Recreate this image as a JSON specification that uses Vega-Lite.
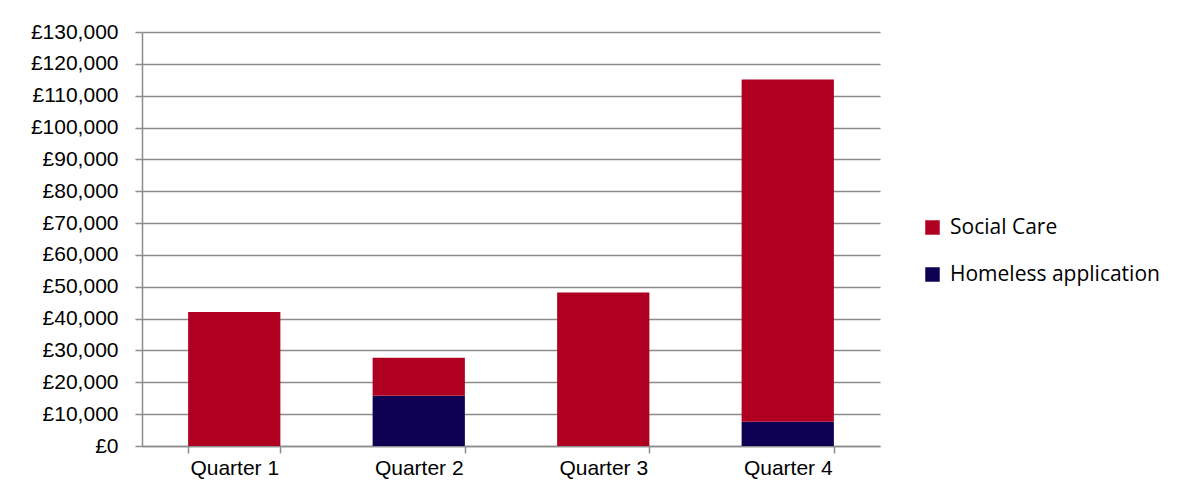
{
  "$schema": "https://vega.github.io/schema/vega-lite/v6.json",
  "autosize": "none",
  "width": 738,
  "height": 414,
  "padding": {"left": 142, "top": 32, "right": 315, "bottom": 36},
  "background": "white",
  "data": {
    "values": [
      {"quarter": "Quarter 1", "category": "Social Care", "amount": 42100, "rank": 2},
      {"quarter": "Quarter 2", "category": "Homeless application", "amount": 15800, "rank": 1},
      {"quarter": "Quarter 2", "category": "Social Care", "amount": 11900, "rank": 2},
      {"quarter": "Quarter 3", "category": "Social Care", "amount": 48200, "rank": 2},
      {"quarter": "Quarter 4", "category": "Homeless application", "amount": 7650, "rank": 1},
      {"quarter": "Quarter 4", "category": "Social Care", "amount": 107450, "rank": 2}
    ]
  },
  "mark": {"type": "bar"},
  "encoding": {
    "x": {
      "field": "quarter",
      "type": "nominal",
      "title": null,
      "scale": {"paddingInner": 0.5, "paddingOuter": 0.25},
      "axis": {
        "labelAngle": 0,
        "labelFont": "Liberation Sans",
        "labelFontSize": 21,
        "labelColor": "#000000",
        "labelPadding": 4,
        "domainColor": "#8c8c8c",
        "domainWidth": 1.5,
        "tickColor": "#8c8c8c",
        "tickWidth": 1.5,
        "tickSize": 7,
        "tickBand": "extent",
        "grid": false
      }
    },
    "y": {
      "field": "amount",
      "type": "quantitative",
      "stack": "zero",
      "title": null,
      "scale": {"domain": [0, 130000], "nice": false},
      "axis": {
        "values": [0, 10000, 20000, 30000, 40000, 50000, 60000, 70000, 80000, 90000, 100000, 110000, 120000, 130000],
        "labelExpr": "'£' + format(datum.value, ',')",
        "labelFont": "Liberation Sans",
        "labelFontSize": 21,
        "labelColor": "#000000",
        "labelPadding": 17,
        "domainColor": "#8c8c8c",
        "domainWidth": 1.5,
        "tickColor": "#8c8c8c",
        "tickWidth": 1.5,
        "tickSize": 7,
        "grid": true,
        "gridColor": "#8c8c8c",
        "gridWidth": 1.5
      }
    },
    "color": {
      "field": "category",
      "type": "nominal",
      "scale": {"domain": ["Social Care", "Homeless application"], "range": ["#b00022", "#0e0052"]},
      "legend": {
        "title": null,
        "orient": "none",
        "legendX": 780,
        "legendY": 185,
        "symbolType": "square",
        "symbolSize": 210,
        "symbolStrokeWidth": 0,
        "labelFont": "Open Sans",
        "labelFontSize": 21,
        "labelColor": "#000000",
        "labelOffset": 7,
        "rowPadding": 25,
        "labelLimit": 400
      }
    },
    "order": {"field": "rank", "type": "quantitative"}
  },
  "config": {"view": {"stroke": null}}
}
